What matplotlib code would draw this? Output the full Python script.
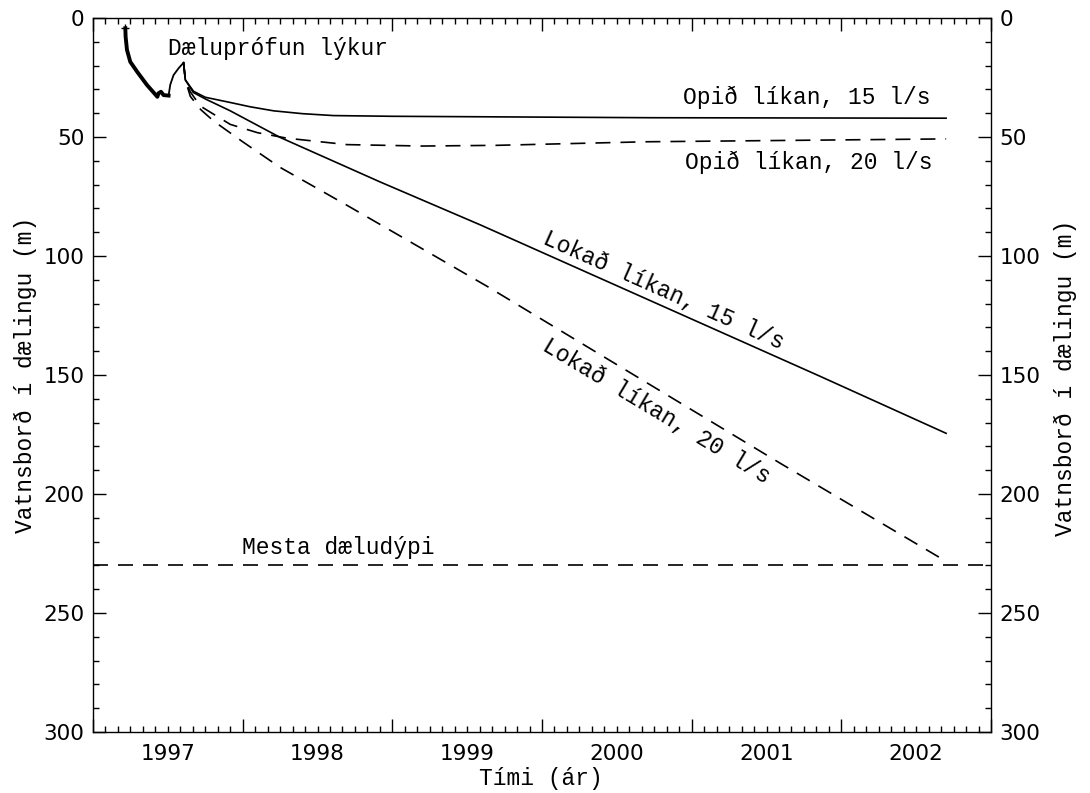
import numpy as np
import matplotlib
matplotlib.use("Agg")
import matplotlib.pyplot as plt
from matplotlib.ticker import MultipleLocator

# Measured drawdown during the pumping test (time in decimal years, depth in m)
obs_t = [1997.216, 1997.218, 1997.227, 1997.249, 1997.294, 1997.36, 1997.43,
         1997.438, 1997.454, 1997.472, 1997.505]
obs_d = [4.3, 7.9, 13.4, 18.4, 22.5, 28.1, 33.1, 31.6, 31.0, 32.4, 32.6]
recov_t = [1997.505, 1997.516, 1997.538, 1997.572, 1997.605]
recov_d = [32.6, 28.1, 24.0, 21.1, 18.8]

# Model predictions
open15_t = [1997.605, 1997.617, 1997.672, 1997.75, 1997.917, 1998.05, 1998.206,
            1998.4, 1998.607, 1999.0, 1999.587, 2000.727, 2002.70]
open15_d = [18.8, 26.0, 30.8, 33.3, 35.5, 37.3, 39.0, 40.2, 41.0, 41.3, 41.5,
            41.9, 42.1]

open20_t = [1997.605, 1997.617, 1997.65, 1997.717, 1997.917, 1998.1, 1998.296,
            1998.697, 1999.2, 1999.7, 2000.7, 2002.70]
open20_d = [18.8, 26.0, 31.0, 37.0, 44.7, 48.2, 50.5, 53.2, 53.8, 53.5, 52.0,
            50.8]

closed15_t = [1997.605, 1997.617, 1997.67, 1997.75, 1997.917, 1998.251, 1998.919,
              1999.587, 2001.86, 2002.70]
closed15_d = [18.8, 26.0, 31.3, 34.0, 39.0, 50.2, 68.9, 86.9, 150.6, 174.5]

closed20_t = [1997.605, 1997.617, 1997.65, 1997.72, 1997.806, 1998.0, 1998.251,
              1998.697, 1999.253, 1999.632, 2001.592, 2002.70]
closed20_d = [18.8, 26.0, 32.9, 38.5, 43.3, 52.0, 62.8, 78.7, 98.9, 112.7,
              187.1, 228.3]

max_depth = 230.0
years = [1997, 1998, 1999, 2000, 2001, 2002]

TEXT_FONT = "Liberation Mono"
TICK_FONT = "DejaVu Sans"
DASH = (0, (9, 6))

fig = plt.figure(figsize=(10.9, 7.93), dpi=100)
ax = fig.add_axes([93 / 1090, 1 - 732 / 793, 898 / 1090, 714 / 793])

ax.plot(obs_t, obs_d, color="black", lw=2.8, solid_joinstyle="round")
ax.plot(recov_t, recov_d, color="black", lw=1.3)
ax.plot(obs_t[0], obs_d[0], marker="+", color="black", ms=6, mew=1)

ax.plot(open15_t, open15_d, color="black", lw=1.2)
ax.plot(open20_t, open20_d, color="black", lw=1.2, ls=DASH)
ax.plot(closed15_t, closed15_d, color="black", lw=1.2)
ax.plot(closed20_t, closed20_d, color="black", lw=1.2, ls=DASH)
ax.plot([1997, 2003], [max_depth, max_depth], color="black", lw=1.2, ls=DASH)

ax.set_xlim(1997, 2003)
ax.set_ylim(300, 0)

# year boundaries long ticks, months short
ax.xaxis.set_major_locator(MultipleLocator(1))
ax.xaxis.set_minor_locator(MultipleLocator(1 / 12))
ax.yaxis.set_major_locator(MultipleLocator(50))
ax.yaxis.set_minor_locator(MultipleLocator(10))
ax.tick_params(which="both", direction="in", top=True, right=True,
               labelbottom=False, labelright=True, width=1)
ax.tick_params(which="major", length=9.5)
ax.tick_params(which="minor", length=4)
ax.tick_params(axis="y", labelsize=15.5, pad=6)
for lab in ax.get_yticklabels():
    lab.set_family(TICK_FONT)
for sp in ax.spines.values():
    sp.set_linewidth(1)

# year labels centred in each year
sec_x = ax.secondary_xaxis("bottom")
sec_x.set_xticks([y + 0.5 for y in years], [str(y) for y in years])
sec_x.tick_params(length=0, pad=9, labelsize=15.5)
sec_x.spines["bottom"].set_visible(False)

txt = dict(family=TEXT_FONT, fontsize=16.5, color="black")
ax.text(1997.503, 15.5, "Dæluprófun lýkur", ha="left", va="baseline", **txt)
ax.text(2002.593, 36.3, "Opið líkan, 15 l/s", ha="right", va="baseline", **txt)
ax.text(2002.61, 63.6, "Opið líkan, 20 l/s", ha="right", va="baseline", **txt)
ax.text(2000.81, 114.4, "Lokað líkan, 15 l/s", ha="center", va="center",
        rotation=-24, rotation_mode="anchor", **txt)
ax.text(2000.763, 165.2, "Lokað líkan, 20 l/s", ha="center", va="center",
        rotation=-31, rotation_mode="anchor", **txt)
ax.text(1997.995, 225.3, "Mesta dæludýpi", ha="left", va="baseline", **txt)

fig.text(541 / 1090, 1 - 778 / 793, "Tími (ár)", ha="center", va="center", **txt)
fig.text(25 / 1090, 1 - 375 / 793, "Vatnsborð í dælingu (m)", ha="center",
         va="center", rotation=90, rotation_mode="anchor", **txt)
fig.text(1065 / 1090, 1 - 378 / 793, "Vatnsborð í dælingu (m)", ha="center",
         va="center", rotation=90, rotation_mode="anchor", **txt)

fig.savefig("out.png", dpi=100)
